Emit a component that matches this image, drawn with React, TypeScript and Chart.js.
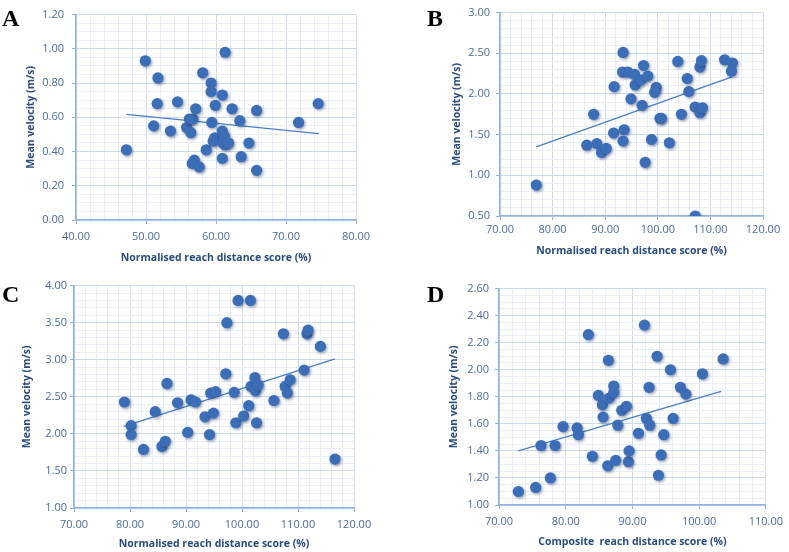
import React, { useEffect, useRef } from "react";
import { Chart, registerables } from "chart.js";

Chart.register(...registerables);

// ---------- Data ----------
const aX = [47.2, 49.9, 51.7, 51.6, 51.1, 53.5, 54.5, 55.8, 56.2, 56.7, 56.4, 57.1, 56.9, 56.6, 57.6, 58.1, 58.6, 59.3, 59.3, 59.4, 59.9, 59.8, 59.6, 60.9, 60.9, 61.2, 61.0, 61.3, 61.8, 60.9, 61.3, 62.3, 63.4, 63.6, 64.7, 65.8, 65.8, 71.8, 74.6];
const aY = [0.41, 0.93, 0.83, 0.68, 0.55, 0.52, 0.69, 0.54, 0.59, 0.59, 0.51, 0.65, 0.35, 0.33, 0.31, 0.86, 0.41, 0.80, 0.75, 0.57, 0.67, 0.48, 0.46, 0.73, 0.52, 0.49, 0.45, 0.44, 0.45, 0.36, 0.98, 0.65, 0.58, 0.37, 0.45, 0.64, 0.29, 0.57, 0.68];
const aTrendX = [47.2, 74.7];
const aTrendY = [0.617, 0.505];

const bX = [76.9, 87.8, 86.5, 88.4, 89.3, 90.2, 91.6, 91.7, 93.4, 93.3, 94.3, 93.6, 93.4, 94.9, 95.6, 95.7, 96.8, 97.3, 97.0, 98.1, 97.6, 98.8, 99.7, 99.4, 100.4, 100.7, 102.2, 103.8, 104.5, 105.6, 105.9, 107.1, 107.1, 108.0, 108.3, 108.0, 108.5, 112.7, 114.2, 114.0];
const bY = [0.88, 1.75, 1.37, 1.39, 1.28, 1.33, 1.52, 2.09, 2.51, 2.27, 2.27, 1.56, 1.42, 1.94, 2.24, 2.11, 2.17, 2.35, 1.86, 2.22, 1.16, 1.44, 2.08, 2.02, 1.70, 1.70, 1.40, 2.40, 1.75, 2.19, 2.03, 1.84, 0.50, 2.33, 2.41, 1.77, 1.83, 2.42, 2.38, 2.28];
const bTrendX = [76.9, 114.1];
const bTrendY = [1.35, 2.21];

const cX = [79.0, 80.2, 80.2, 82.4, 84.5, 85.7, 86.3, 86.6, 88.5, 90.3, 90.9, 91.7, 93.4, 94.2, 94.4, 95.3, 94.9, 97.1, 97.3, 98.6, 98.9, 99.3, 100.3, 101.2, 101.5, 101.6, 102.3, 102.4, 102.9, 102.6, 105.7, 107.4, 107.7, 108.1, 108.6, 111.1, 111.6, 111.8, 114.0, 116.6];
const cY = [2.43, 2.11, 1.99, 1.79, 2.30, 1.83, 1.90, 2.68, 2.42, 2.02, 2.46, 2.43, 2.23, 1.99, 2.55, 2.57, 2.28, 2.81, 3.50, 2.56, 2.15, 3.80, 2.24, 2.38, 3.80, 2.64, 2.76, 2.58, 2.66, 2.15, 2.45, 3.35, 2.64, 2.55, 2.73, 2.86, 3.35, 3.40, 3.18, 1.66];
const cTrendX = [78.9, 116.6];
const cTrendY = [2.10, 3.01];

const dX = [72.9, 75.5, 76.3, 77.7, 78.4, 79.6, 81.7, 81.9, 83.4, 84.0, 84.9, 85.5, 85.6, 86.3, 86.4, 86.5, 87.2, 87.2, 87.5, 87.8, 88.4, 89.1, 89.4, 89.5, 90.9, 91.8, 92.1, 92.5, 92.6, 93.7, 93.9, 94.3, 94.7, 95.7, 96.1, 97.2, 98.0, 100.5, 103.6];
const dY = [1.10, 1.13, 1.44, 1.20, 1.44, 1.58, 1.57, 1.52, 2.26, 1.36, 1.81, 1.74, 1.65, 1.29, 2.07, 1.79, 1.88, 1.83, 1.33, 1.59, 1.70, 1.73, 1.32, 1.40, 1.53, 2.33, 1.64, 1.87, 1.59, 2.10, 1.22, 1.37, 1.52, 2.00, 1.64, 1.87, 1.82, 1.97, 2.08];
const dTrendX = [72.9, 103.3];
const dTrendY = [1.40, 1.84];

// axis ranges: [min, max, majorStep, minorStep]
const aXAxis = [40, 80, 10, 2];
const aYAxis = [0, 1.2, 0.2, 0.05];
const bXAxis = [70, 120, 10, 2];
const bYAxis = [0.5, 3.0, 0.5, 0.1];
const cXAxis = [70, 120, 10, 2];
const cYAxis = [1.0, 4.0, 0.5, 0.1];
const dXAxis = [70, 110, 10, 2];
const dYAxis = [1.0, 2.6, 0.2, 0.05];

const panelLetters = ["A", "B", "C", "D"];
const xTitles = [
  "Normalised reach distance score (%)",
  "Normalised reach distance score (%)",
  "Normalised reach distance score (%)",
  "Composite  reach distance score (%)",
];
const yTitle = "Mean velocity (m/s)";

// ---------- Styling ----------
const TICK_COLOR = "#4D6A98";
const TITLE_COLOR = "#2A4B7C";
const POINT_COLOR = "#3C6EB7";
const LINE_COLOR = "#4A7EC8";
const MAJOR_GRID = "#CCDAEF";
const MINOR_GRID = "#E9EEF8";
const AXIS_COLOR = "#8FB0E0";
const TICK_FONT = { family: "'Open Sans', 'Liberation Sans', sans-serif", size: 11 };
const TITLE_FONT = { family: "'Open Sans', 'Liberation Sans', sans-serif", size: 10.5, weight: "bold" as const };

type Layout = {
  left: number; top: number; w: number; h: number;
  yW: number; xH: number; padTop: number; padRight: number;
  yTitlePad: number; xTitlePad: number; xTickPad: number; yTickPad: number;
};

const layouts: Layout[] = [
  { left: 0, top: 0, w: 395, h: 276, yW: 76, xH: 56, padTop: 6, padRight: 39, yTitlePad: 25, xTitlePad: 12, xTickPad: 6, yTickPad: 8 },
  { left: 395, top: 0, w: 394, h: 276, yW: 105, xH: 60, padTop: 6, padRight: 26, yTitlePad: 56, xTitlePad: 19, xTickPad: 3, yTickPad: 6 },
  { left: 0, top: 276, w: 395, h: 276, yW: 74, xH: 44, padTop: 6, padRight: 41, yTitlePad: 21, xTitlePad: 1.5, xTickPad: 6, yTickPad: 3 },
  { left: 395, top: 276, w: 394, h: 276, yW: 104, xH: 47, padTop: 11, padRight: 18, yTitlePad: 53, xTitlePad: 4, xTickPad: 6, yTickPad: 6 },
];

const isMajor = (v: number, min: number, step: number) => {
  const r = (v - min) / step;
  return Math.abs(r - Math.round(r)) < 1e-6;
};

const shadowPlugin = {
  id: "pointShadow",
  beforeDatasetDraw(chart: any, args: any) {
    if (args.index === 1) {
      const ctx = chart.ctx;
      ctx.save();
      ctx.shadowColor = "rgba(20,40,80,0.45)";
      ctx.shadowBlur = 3;
      ctx.shadowOffsetX = 1.2;
      ctx.shadowOffsetY = 1.5;
    }
  },
  afterDatasetDraw(chart: any, args: any) {
    if (args.index === 1) chart.ctx.restore();
  },
};

function Panel(props: {
  idx: number; xs: number[]; ys: number[]; tx: number[]; ty: number[];
  xAxis: number[]; yAxis: number[];
}) {
  const ref = useRef<HTMLCanvasElement | null>(null);
  const L = layouts[props.idx];
  useEffect(() => {
    if (!ref.current) return;
    const [xmin, xmax, xmaj, xmin2] = props.xAxis;
    const [ymin, ymax, ymaj, ymin2] = props.yAxis;
    const pts = props.xs.map((x, i) => ({ x, y: props.ys[i] }));
    const trend = props.tx.map((x, i) => ({ x, y: props.ty[i] }));
    const chart = new Chart(ref.current, {
      type: "scatter",
      data: {
        datasets: [
          {
            type: "line",
            data: trend,
            borderColor: LINE_COLOR,
            borderWidth: 1.3,
            pointRadius: 0,
            fill: false,
            order: 2,
          } as any,
          {
            data: pts,
            backgroundColor: POINT_COLOR,
            borderColor: POINT_COLOR,
            borderWidth: 0,
            pointRadius: 5.6,
            order: 1,
          },
        ],
      },
      options: {
        responsive: false,
        animation: false,
        events: [],
        layout: { padding: { top: L.padTop, right: L.padRight, left: 0, bottom: 0 } },
        plugins: { legend: { display: false }, tooltip: { enabled: false } },
        scales: {
          x: {
            type: "linear",
            min: xmin,
            max: xmax,
            afterFit: (s: any) => { s.height = L.xH; },
            ticks: {
              stepSize: xmin2,
              autoSkip: false,
              maxRotation: 0,
              color: TICK_COLOR,
              font: TICK_FONT,
              padding: L.xTickPad,
              callback: (v: any) => (isMajor(Number(v), xmin, xmaj) ? Number(v).toFixed(2) : ""),
            },
            grid: {
              color: (c: any) => (isMajor(c.tick.value, xmin, xmaj) ? MAJOR_GRID : MINOR_GRID),
              tickColor: (c: any) => (isMajor(c.tick.value, xmin, xmaj) ? AXIS_COLOR : "rgba(0,0,0,0)"),
              tickLength: 4,
              lineWidth: 1,
            },
            border: { color: AXIS_COLOR, width: 1.5 },
            title: {
              display: true,
              text: xTitles[props.idx],
              color: TITLE_COLOR,
              font: TITLE_FONT,
              padding: { top: 0, bottom: L.xTitlePad },
            },
          },
          y: {
            type: "linear",
            min: ymin,
            max: ymax,
            afterFit: (s: any) => { s.width = L.yW; },
            ticks: {
              stepSize: ymin2,
              autoSkip: false,
              color: TICK_COLOR,
              font: TICK_FONT,
              padding: L.yTickPad,
              callback: (v: any) => (isMajor(Number(v), ymin, ymaj) ? Number(v).toFixed(2) : ""),
            },
            grid: {
              color: (c: any) => (isMajor(c.tick.value, ymin, ymaj) ? MAJOR_GRID : MINOR_GRID),
              tickColor: (c: any) => (isMajor(c.tick.value, ymin, ymaj) ? AXIS_COLOR : "rgba(0,0,0,0)"),
              tickLength: 4,
              lineWidth: 1,
            },
            border: { color: AXIS_COLOR, width: 1.5 },
            title: {
              display: true,
              text: yTitle,
              color: TITLE_COLOR,
              font: TITLE_FONT,
              padding: { top: L.yTitlePad, bottom: 0 },
            },
          },
        },
      },
      plugins: [shadowPlugin],
    });
    return () => chart.destroy();
  }, []);
  return (
    <>
      <canvas
        ref={ref}
        width={L.w}
        height={L.h}
        style={{ position: "absolute", left: L.left, top: L.top, width: L.w, height: L.h, display: "block" }}
      />
      <span
        style={{
          position: "absolute",
          left: L.left + (props.idx % 2 === 0 ? 2 : 32),
          top: L.top + 6,
          fontFamily: "'Liberation Serif', 'Times New Roman', serif",
          fontWeight: "bold",
          fontSize: 24,
          lineHeight: "24px",
          color: "#000",
        }}
      >
        {panelLetters[props.idx]}
      </span>
    </>
  );
}

export default function App() {
  return (
    <div style={{ position: "absolute", left: 0, top: 0, width: 789, height: 552, background: "#fff", overflow: "hidden" }}>
      <Panel idx={0} xs={aX} ys={aY} tx={aTrendX} ty={aTrendY} xAxis={aXAxis} yAxis={aYAxis} />
      <Panel idx={1} xs={bX} ys={bY} tx={bTrendX} ty={bTrendY} xAxis={bXAxis} yAxis={bYAxis} />
      <Panel idx={2} xs={cX} ys={cY} tx={cTrendX} ty={cTrendY} xAxis={cXAxis} yAxis={cYAxis} />
      <Panel idx={3} xs={dX} ys={dY} tx={dTrendX} ty={dTrendY} xAxis={dXAxis} yAxis={dYAxis} />
    </div>
  );
}
